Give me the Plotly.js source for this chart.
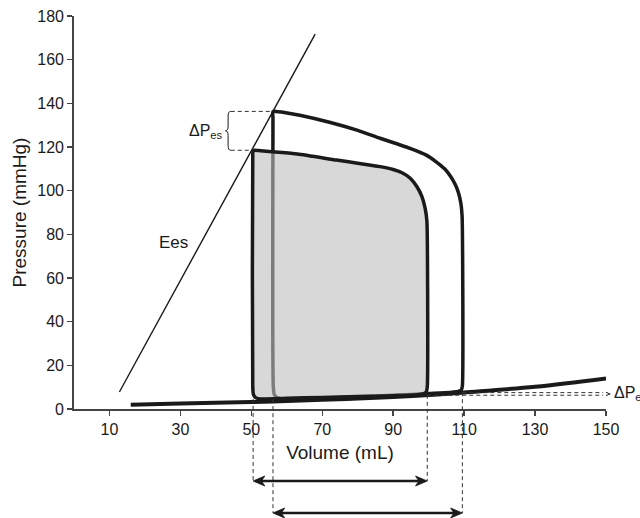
<!DOCTYPE html>
<html>
<head>
<meta charset="utf-8">
<script src="https://cdn.plot.ly/plotly-3.0.1.min.js"></script>
<style>html,body{margin:0;padding:0;background:#fff;}#chart{width:640px;height:518px;}</style>
</head>
<body>
<div id="chart"></div>
<script>
// ---- data (volume in mL, pressure in mmHg) ----
const xTickVals = [10, 30, 50, 70, 90, 110, 130, 150];
const yTickVals = [0, 20, 40, 60, 80, 100, 120, 140, 160, 180];

// end-diastolic pressure-volume relation
const edpvrVol  = [16, 30, 50, 70, 90, 100, 110, 130, 150];
const edpvrPres = [2.0, 2.5, 3.2, 4.2, 5.5, 6.4, 7.6, 10.2, 14.0];

// end-systolic elastance line (Ees)
const eesVol  = [12.8, 68];
const eesPres = [7.8, 171.7];

// smaller (shaded) loop
const smallVol  = [50.5, 50.4, 50.4, 50.6, 51.3, 52.6, 60, 70, 80, 90, 96, 98.3, 99.3, 99.6, 99.6, 99.5, 99.0, 98.1, 96.7, 94.8, 92.5, 90, 86.3, 80, 74, 63, 56, 52, 50.9, 50.5];
const smallPres = [118.2, 115, 10, 6.6, 5.1, 4.6, 4.9, 5.3, 5.7, 6.1, 6.4, 6.9, 7.8, 10, 80, 86, 92, 97.3, 101.8, 105.7, 108.2, 109.7, 111, 112.6, 114, 116.8, 117.8, 118.4, 118.5, 118.2];

// larger loop
const largeVol  = [56.1, 56.1, 56.2, 56.5, 57.5, 60, 70, 80, 90, 100, 106, 108.3, 109.2, 109.5, 109.5, 109.4, 109.1, 108.4, 107.5, 106.1, 104.5, 102.3, 99.2, 95.7, 91, 86.3, 80, 72.3, 64, 58.5, 57, 56.1];
const largePres = [136.2, 133, 10, 6.5, 5.0, 4.5, 5.0, 5.6, 6.3, 7.1, 7.6, 8.0, 8.7, 10.5, 83, 89, 94, 99, 102.8, 106.7, 110, 113, 116.4, 118.8, 121.5, 124, 127.6, 131.2, 134.4, 136, 136.3, 136.2];

// reference values read from the loops
const espSmall = 118.5, espLarge = 136.3;   // end-systolic pressures
const esvSmall = 50.5,  esvLarge = 56.1;    // end-systolic volumes
const edvSmall = 99.6,  edvLarge = 109.5;   // end-diastolic volumes
const edpSmall = 6.5,   edpLarge = 7.7;     // end-diastolic pressures
const braceEsVol = 44.2;                    // position of the ΔPes brace
const dashEdEnd = 149.2;                    // end of the ΔPed dashed lines

// ---- helpers ----
const FONT = 'Liberation Sans, Arial, Helvetica, sans-serif';
const INK = '#1a1a1a';
const yPx = 393; // plot-area height in px, used for paper offsets
const arrow1Y = -72 / yPx;   // paper y of first (smaller loop) arrow
const arrow2Y = -104 / yPx;  // paper y of second (larger loop) arrow
const headLen = 3.3;         // arrowhead length (x units)
const headHalf = 5 / yPx;    // arrowhead half-height (paper units)

function braceLeft(x, yTop, yBot, w) {
  const ym = (yTop + yBot) / 2, h = (yTop - yBot);
  const xm = x - w * 0.5, xl = x - w;
  const c = h * 0.12;
  return `M ${x},${yTop} Q ${xm},${yTop} ${xm},${yTop - c} L ${xm},${ym + c} Q ${xm},${ym} ${xl},${ym} ` +
         `Q ${xm},${ym} ${xm},${ym - c} L ${xm},${yBot + c} Q ${xm},${yBot} ${x},${yBot}`;
}
function braceRight(x, yTop, yBot, w) {
  const ym = (yTop + yBot) / 2, h = (yTop - yBot);
  const xm = x + w * 0.5, xr = x + w;
  const c = h * 0.12;
  return `M ${x},${yTop} Q ${xm},${yTop} ${xm},${yTop - c} L ${xm},${ym + c} Q ${xm},${ym} ${xr},${ym} ` +
         `Q ${xm},${ym} ${xm},${ym - c} L ${xm},${yBot + c} Q ${xm},${yBot} ${x},${yBot}`;
}
function head(tipX, y, dir) {
  // dir = +1 points right, -1 points left
  const b = tipX - dir * headLen, n = tipX - dir * headLen * 0.72;
  return `M ${tipX},${y} L ${b},${y + headHalf} L ${n},${y} L ${b},${y - headHalf} Z`;
}
function doubleArrow(x0, x1, y) {
  return [
    {type: 'line', xref: 'x', yref: 'paper', x0: x0 + headLen * 0.6, x1: x1 - headLen * 0.6, y0: y, y1: y, line: {color: INK, width: 2.4}},
    {type: 'path', xref: 'x', yref: 'paper', path: head(x0, y, -1), fillcolor: INK, line: {color: INK, width: 0.8}},
    {type: 'path', xref: 'x', yref: 'paper', path: head(x1, y, 1), fillcolor: INK, line: {color: INK, width: 0.8}}
  ];
}
const dashLine = {color: '#333', width: 1, dash: '4px,3px'};

const traces = [
  {x: edpvrVol, y: edpvrPres, mode: 'lines', line: {color: INK, width: 4, shape: 'spline'}, hoverinfo: 'skip', showlegend: false},
  {x: largeVol, y: largePres, mode: 'lines', line: {color: INK, width: 3.5, shape: 'spline', smoothing: 0.6}, hoverinfo: 'skip', showlegend: false},
  {x: smallVol, y: smallPres, mode: 'lines', fill: 'toself', fillcolor: 'rgba(190,190,190,0.6)', line: {color: INK, width: 3.5, shape: 'spline', smoothing: 0.6}, hoverinfo: 'skip', showlegend: false},
  {x: eesVol, y: eesPres, mode: 'lines', line: {color: INK, width: 1.4}, hoverinfo: 'skip', showlegend: false}
];

const shapes = [
  // ΔPes dashed guides
  {type: 'line', xref: 'x', yref: 'y', x0: braceEsVol, x1: esvLarge, y0: espLarge, y1: espLarge, line: dashLine},
  {type: 'line', xref: 'x', yref: 'y', x0: braceEsVol, x1: esvSmall, y0: espSmall, y1: espSmall, line: dashLine},
  {type: 'path', xref: 'x', yref: 'y', path: braceLeft(braceEsVol, espLarge, espSmall, 1.5), line: {color: INK, width: 1}},
  // ΔPed dashed guides
  {type: 'line', xref: 'x', yref: 'y', x0: edvSmall, x1: dashEdEnd, y0: edpSmall - 0.2, y1: edpSmall - 0.2, line: dashLine},
  {type: 'line', xref: 'x', yref: 'y', x0: edvLarge, x1: dashEdEnd, y0: edpLarge - 0.2, y1: edpLarge - 0.2, line: dashLine},
  {type: 'path', xref: 'paper', yref: 'y', path: braceRight(1.0, edpLarge - 0.2, edpSmall - 0.2, 0.008), line: {color: INK, width: 1}},
  // vertical guides to stroke-volume arrows
  {type: 'line', xref: 'x', yref: 'paper', x0: esvSmall, x1: esvSmall, y0: 4.6 / 180, y1: arrow1Y, line: dashLine},
  {type: 'line', xref: 'x', yref: 'paper', x0: edvSmall, x1: edvSmall, y0: edpSmall / 180, y1: arrow1Y, line: dashLine},
  {type: 'line', xref: 'x', yref: 'paper', x0: esvLarge, x1: esvLarge, y0: 4.5 / 180, y1: arrow2Y, line: dashLine},
  {type: 'line', xref: 'x', yref: 'paper', x0: edvLarge, x1: edvLarge, y0: edpLarge / 180, y1: arrow2Y, line: dashLine}
].concat(doubleArrow(esvSmall, edvSmall, arrow1Y), doubleArrow(esvLarge, edvLarge, arrow2Y));

const annotations = [
  {x: 28.1, y: 76.2, xref: 'x', yref: 'y', text: 'Ees', showarrow: false, font: {family: FONT, size: 17, color: INK}},
  {x: 42.6, y: 127.3, xref: 'x', yref: 'y', xanchor: 'right', text: 'ΔP<sub>es</sub>', showarrow: false, font: {family: FONT, size: 16, color: INK}},
  {x: 1.0115, y: 7.0, xref: 'paper', yref: 'y', xanchor: 'left', text: 'ΔP<sub>ed</sub>', showarrow: false, font: {family: FONT, size: 16, color: INK}}
];

const axisCommon = {
  showgrid: false, zeroline: false, showline: true, linecolor: '#444', linewidth: 1.8,
  ticks: 'outside', ticklen: 5, tickwidth: 1.5, tickcolor: '#444',
  tickfont: {family: FONT, size: 16, color: INK}, fixedrange: true
};

const layout = {
  width: 640, height: 518,
  margin: {l: 73.5, r: 34, t: 16, b: 109, pad: 0},
  paper_bgcolor: '#fff', plot_bgcolor: '#fff',
  font: {family: FONT, color: INK},
  xaxis: Object.assign({}, axisCommon, {
    range: [0, 150], tickmode: 'array', tickvals: xTickVals, ticktext: xTickVals.map(String),
    title: {text: 'Volume (mL)', font: {family: FONT, size: 19, color: INK}, standoff: 9}
  }),
  yaxis: Object.assign({}, axisCommon, {
    range: [0, 180], tickmode: 'array', tickvals: yTickVals, ticktext: yTickVals.map(String),
    title: {text: 'Pressure (mmHg)', font: {family: FONT, size: 19, color: INK}, standoff: 6}
  }),
  shapes: shapes,
  annotations: annotations,
  showlegend: false
};

Plotly.newPlot('chart', traces, layout, {displayModeBar: false, staticPlot: true});
</script>
</body>
</html>
